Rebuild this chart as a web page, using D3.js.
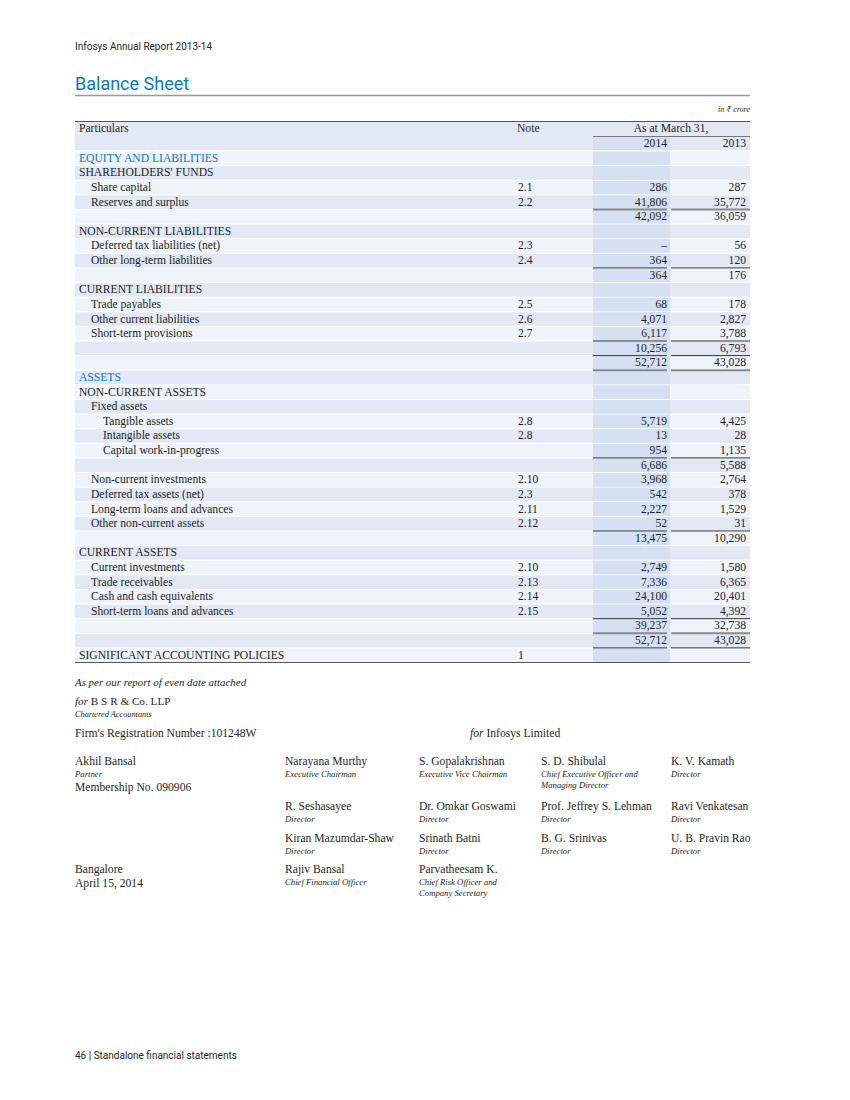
<!DOCTYPE html>
<html>
<head>
<meta charset="utf-8">
<script src="https://d3js.org/d3.v7.min.js"></script>
<style>
  body { margin: 0; background: #fff; }
  svg { display: block; }
  .sans { font-family: Roboto, "Noto Sans", sans-serif; fill: #231f20; }
  .serif { font-family: "Liberation Serif", serif; fill: #231f20; font-size: 11.6px; }
  .blue { fill: #0b7bc1; }
</style>
</head>
<body>
<svg id="page" width="850" height="1100"></svg>
<script>
// row labels, indent level, note, 2014 and 2013 values (null = blank, "dash" = –)
const labels = [
  "EQUITY AND LIABILITIES", "SHAREHOLDERS' FUNDS", "Share capital", "Reserves and surplus", "",
  "NON-CURRENT LIABILITIES", "Deferred tax liabilities (net)", "Other long-term liabilities", "",
  "CURRENT LIABILITIES", "Trade payables", "Other current liabilities", "Short-term provisions", "", "",
  "ASSETS", "NON-CURRENT ASSETS", "Fixed assets", "Tangible assets", "Intangible assets",
  "Capital work-in-progress", "", "Non-current investments", "Deferred tax assets (net)",
  "Long-term loans and advances", "Other non-current assets", "", "CURRENT ASSETS",
  "Current investments", "Trade receivables", "Cash and cash equivalents",
  "Short-term loans and advances", "", "", "SIGNIFICANT ACCOUNTING POLICIES"
];
const levels = [0,0,1,1,0, 0,1,1,0, 0,1,1,1,0,0, 0,0,1,2,2, 2,0,1,1, 1,1,0,0, 1,1,1, 1,0,0,0];
const notes = ["","","2.1","2.2","", "","2.3","2.4","", "","2.5","2.6","2.7","","",
  "","","","2.8","2.8", "","","2.10","2.3", "2.11","2.12","","", "2.10","2.13","2.14", "2.15","","","1"];
const values2014 = [null,null,286,41806,42092, null,"dash",364,364, null,68,4071,6117,10256,52712,
  null,null,null,5719,13, 954,6686,3968,542, 2227,52,13475,null, 2749,7336,24100, 5052,39237,52712,null];
const values2013 = [null,null,287,35772,36059, null,56,120,176, null,178,2827,3788,6793,43028,
  null,null,null,4425,28, 1135,5588,2764,378, 1529,31,10290,null, 1580,6365,20401, 4392,32738,43028,null];
const blueRows = [0, 15];
const ruleAbove = [4, 8, 13, 14, 21, 26, 32, 33];
const ruleBelow = [14, 33];

// signatories: [name, title line 1, title line 2]
const signRows = [
  [["Narayana Murthy","Executive Chairman"],["S. Gopalakrishnan","Executive Vice Chairman"],
   ["S. D. Shibulal","Chief Executive Officer and","Managing Director"],["K. V. Kamath","Director"]],
  [["R. Seshasayee","Director"],["Dr. Omkar Goswami","Director"],
   ["Prof. Jeffrey S. Lehman","Director"],["Ravi Venkatesan","Director"]],
  [["Kiran Mazumdar-Shaw","Director"],["Srinath Batni","Director"],
   ["B. G. Srinivas","Director"],["U. B. Pravin Rao","Director"]],
  [["Rajiv Bansal","Chief Financial Officer"],["Parvatheesam K.","Chief Risk Officer and","Company Secretary"]]
];

const svg = d3.select("#page");
const fmt = d3.format(",");
const L = 75, R = 750;

svg.append("text").attr("class", "sans").attr("x", L).attr("y", 50)
  .style("font-size", "10px").text("Infosys Annual Report 2013-14");
svg.append("text").attr("class", "sans blue").attr("x", L).attr("y", 90)
  .style("font-size", "18px").style("fill", "#0b7bc1").text("Balance Sheet");
svg.append("line").attr("x1", L).attr("x2", R).attr("y1", 95.5).attr("y2", 95.5)
  .attr("stroke", "#999").attr("stroke-width", 1.5);

svg.append("text").attr("class", "serif").attr("x", R).attr("y", 112)
  .attr("text-anchor", "end").style("font-size", "8px").style("font-style", "italic")
  .text("in ₹ crore");

// columns
const col = d3.scaleOrdinal().domain(["label", "note", "y2014", "y2013"]).range([79, 518, 667, 746]);
const colBand = { y2014: [593, 670], y2013: [671, 750] };

const y = d3.scaleBand().domain(d3.range(labels.length)).range([151, 662.5]);
const rh = y.bandwidth();

// header
svg.append("line").attr("x1", L).attr("x2", R).attr("y1", 121.5).attr("y2", 121.5)
  .attr("stroke", "#555").attr("stroke-width", 1);
svg.append("rect").attr("x", L).attr("y", 122).attr("width", R - L).attr("height", 28).attr("fill", "#e2e9f5");
svg.append("rect").attr("x", colBand.y2014[0]).attr("y", 137).attr("width", colBand.y2014[1] - colBand.y2014[0])
  .attr("height", 13).attr("fill", "#d5e1f2");
svg.append("line").attr("x1", 593).attr("x2", R).attr("y1", 136.5).attr("y2", 136.5)
  .attr("stroke", "#777").attr("stroke-width", 1);
svg.append("text").attr("class", "serif").attr("x", col("label")).attr("y", 132).text("Particulars");
svg.append("text").attr("class", "serif").attr("x", col("note") - 1).attr("y", 132).text("Note");
svg.append("text").attr("class", "serif").attr("x", 671).attr("y", 132).attr("text-anchor", "middle").text("As at March 31,");
svg.append("text").attr("class", "serif").attr("x", col("y2014")).attr("y", 147).attr("text-anchor", "end").text("2014");
svg.append("text").attr("class", "serif").attr("x", col("y2013")).attr("y", 147).attr("text-anchor", "end").text("2013");

// row backgrounds
const rows = svg.append("g").selectAll("g").data(d3.range(labels.length)).join("g");
rows.append("rect").attr("x", L).attr("y", i => y(i) + 0.5).attr("width", R - L).attr("height", rh - 1)
  .attr("fill", i => i % 2 === 0 ? "#eff3fa" : "#e2e9f5");
rows.append("rect").attr("x", colBand.y2014[0]).attr("y", i => y(i) + 0.5)
  .attr("width", colBand.y2014[1] - colBand.y2014[0]).attr("height", rh - 1).attr("fill", "#d5e1f2");

const baseY = i => y(i) + rh / 2 + 3.5;
rows.append("text").attr("class", i => blueRows.includes(i) ? "serif blue" : "serif")
  .attr("x", i => col("label") + levels[i] * 12).attr("y", baseY)
  .text(i => labels[i]);
rows.append("text").attr("class", "serif").attr("x", col("note")).attr("y", baseY)
  .text(i => notes[i]);
const cell = v => v === null ? "" : v === "dash" ? "–" : fmt(v);
rows.append("text").attr("class", "serif").attr("x", col("y2014")).attr("y", baseY)
  .attr("text-anchor", "end").text(i => cell(values2014[i]));
rows.append("text").attr("class", "serif").attr("x", col("y2013")).attr("y", baseY)
  .attr("text-anchor", "end").text(i => cell(values2013[i]));

// sum rules
const rules = [];
ruleAbove.forEach(i => rules.push({ yy: y(i), w: i === 4 || i === 33 ? 2 : 1, c: i === 4 || i === 33 ? "#8a8a8a" : "#333" }));
ruleBelow.forEach(i => rules.push({ yy: y(i) + rh, w: i === 14 ? 2 : 1, c: i === 14 ? "#8a8a8a" : "#333" }));
["y2014", "y2013"].forEach(k => {
  svg.append("g").selectAll("line").data(rules).join("line")
    .attr("x1", colBand[k][0]).attr("x2", k === "y2014" ? colBand[k][1] - 3 : colBand[k][1])
    .attr("y1", d => d.yy).attr("y2", d => d.yy)
    .attr("stroke", d => d.c).attr("stroke-width", d => d.w);
});
svg.append("line").attr("x1", L).attr("x2", R).attr("y1", 662.5).attr("y2", 662.5)
  .attr("stroke", "#555").attr("stroke-width", 1);

// signature block
const t = (x, yy, txt, size, italic) => svg.append("text").attr("class", "serif").attr("x", x).attr("y", yy)
  .style("font-size", size + "px").style("font-style", italic ? "italic" : "normal").text(txt);

t(L, 686, "As per our report of even date attached", 10.9, true);
const f1 = t(L, 705, "", 11.2, false);
f1.append("tspan").style("font-style", "italic").text("for ");
f1.append("tspan").text("B S R & Co. LLP");
t(L, 717, "Chartered Accountants", 8.3, true);
t(L, 737, "Firm's Registration Number :101248W", 11.6, false);
const f2 = t(470, 737, "", 11.6, false);
f2.append("tspan").style("font-style", "italic").text("for ");
f2.append("tspan").text("Infosys Limited");

t(L, 765, "Akhil Bansal", 11.6, false);
t(L, 777, "Partner", 8.7, true);
t(L, 791, "Membership No. 090906", 11.6, false);
t(L, 873, "Bangalore", 11.6, false);
t(L, 887, "April 15, 2014", 11.6, false);

const signX = [285, 419, 541, 671];
const signY = [765, 810, 842, 873];
signRows.forEach((row, r) => {
  row.forEach((p, c) => {
    t(signX[c], signY[r], p[0], 11.6, false);
    t(signX[c], signY[r] + 12, p[1], 8.7, true);
    if (p[2]) t(signX[c], signY[r] + 23, p[2], 8.7, true);
  });
});

svg.append("text").attr("class", "sans").attr("x", L).attr("y", 1059)
  .style("font-size", "10px").text("46 | Standalone financial statements");
</script>
</body>
</html>
